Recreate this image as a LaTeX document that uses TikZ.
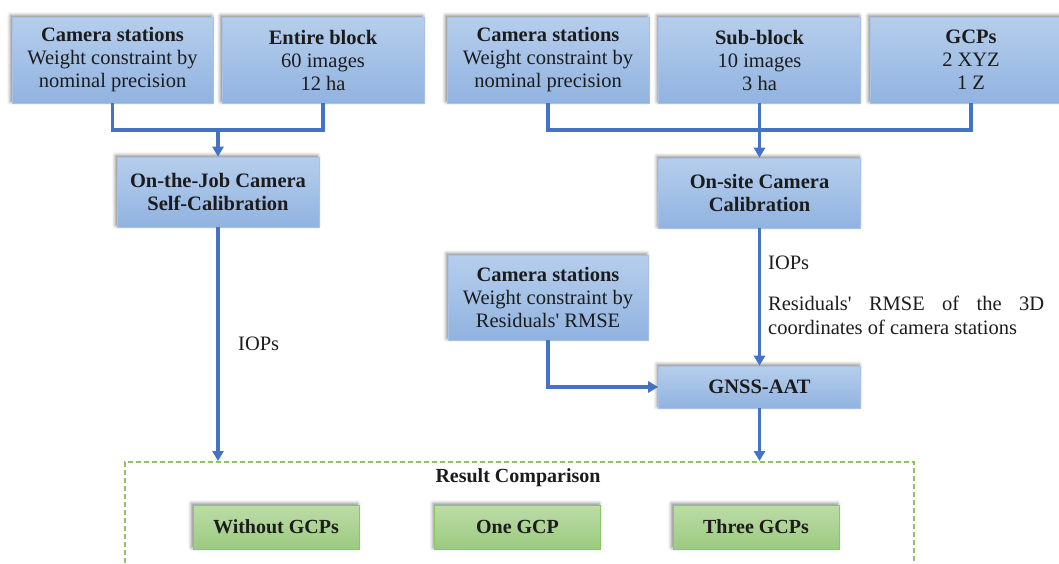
\documentclass[tikz,border=0pt]{standalone}
\usepackage{fontspec}
\setmainfont{Liberation Serif}
\usetikzlibrary{arrows.meta,shadows.blur}

\definecolor{boxtop}{HTML}{B6CEEC}
\definecolor{boxbot}{HTML}{91B3E0}
\definecolor{boxline}{HTML}{A7C2E6}
\definecolor{flow}{HTML}{4472C4}
\definecolor{gtop}{HTML}{BCDCA8}
\definecolor{gbot}{HTML}{9BCA7F}
\definecolor{gline}{HTML}{8CC467}
\definecolor{ink}{HTML}{1C1C1C}

\tikzset{
  boxshadow/.style={blur shadow={shadow xshift=-1.5pt, shadow yshift=1.5pt,
      shadow blur radius=3.5pt, shadow opacity=50}},
  bluebox/.style={draw=boxline, line width=0.6pt, top color=boxtop,
      bottom color=boxbot, align=center, text=ink, inner sep=2pt,
      boxshadow, font=\fontsize{20.5}{23}\selectfont},
  greenbox/.style={draw=gline, line width=0.6pt, top color=gtop,
      bottom color=gbot, align=center, text=ink, inner sep=2pt,
      boxshadow, minimum width=166pt, minimum height=44pt,
      font=\fontsize{20}{23}\selectfont\bfseries},
  toprow/.style={bluebox, minimum width=202pt, minimum height=86pt},
  midbox/.style={bluebox, minimum width=202pt, minimum height=70pt},
  flowline/.style={draw=flow, line width=3.4pt},
  flowarrow/.style={flowline, -{Triangle[length=10pt,width=11pt]}},
  note/.style={text=ink, inner sep=0pt, font=\fontsize{20.5}{24}\selectfont},
}

\begin{document}
\begin{tikzpicture}[x=1pt, y=-1pt]
\useasboundingbox (0,0) rectangle (1059,563);
\clip (0,0) rectangle (1059,563);

% top row of inputs
\node[toprow, minimum width=201pt] (cs1) at (112.5,60)
  {\textbf{Camera stations}\\Weight constraint by\\nominal precision};
\node[toprow] (eb) at (323,60)
  {\textbf{Entire block}\\60 images\\12 ha};
\node[toprow] (cs2) at (548,60)
  {\textbf{Camera stations}\\Weight constraint by\\nominal precision};
\node[toprow] (sb) at (759.5,60)
  {\textbf{Sub-block}\\10 images\\3 ha};
\node[toprow] (gcp) at (971,60)
  {\textbf{GCPs}\\2 XYZ\\1 Z};

% calibration steps
\node[midbox] (ojc) at (218,192)
  {\textbf{On-the-Job Camera}\\\textbf{Self-Calibration}};
\node[midbox] (ons) at (759.5,193)
  {\textbf{On-site Camera}\\\textbf{Calibration}};

% triangulation
\node[bluebox, minimum width=200pt, minimum height=85pt] (cs3) at (548,297.5)
  {\textbf{Camera stations}\\Weight constraint by\\Residuals\textquotesingle{} RMSE};
\node[bluebox, minimum width=202pt, minimum height=42pt] (gnss) at (759.5,387)
  {\textbf{GNSS-AAT}};

% comparison frame
\node[draw=gline, line width=1.8pt, dash pattern=on 5pt off 3pt,
      minimum width=789pt, minimum height=110pt, anchor=north west,
      inner sep=0pt] (res) at (124,461) {};
\node[text=ink, font=\fontsize{20}{23}\selectfont\bfseries] (rc) at (518,478)
  {Result Comparison};
\node[greenbox] (g0) at (276,527) {Without GCPs};
\node[greenbox] (g1) at (517.5,527) {One GCP};
\node[greenbox] (g3) at (756,527) {Three GCPs};

% connectors
\coordinate (j1) at (218,130);
\draw[flowline] (cs1.south) |- (j1) -| (eb.south);
\draw[flowarrow] (j1) -- (ojc.north);

\coordinate (j2) at (759.5,130);
\draw[flowline] (cs2.south) |- (j2) -| (gcp.south);
\draw[flowline] (sb.south) -- (j2);
\draw[flowarrow] (j2) -- (ons.north);

\draw[flowarrow] (ojc.south) -- (ojc.south |- res.north);
\draw[flowarrow] (ons.south) -- (gnss.north);
\draw[flowarrow] (cs3.south) |- (gnss.west);
\draw[flowarrow] (gnss.south) -- (gnss.south |- res.north);

% connector labels
\node[note, anchor=west] (iop1) at (238,344) {IOPs};
\node[note, anchor=west] (iop2) at (768,263) {IOPs};
\node[note, anchor=north west, text width=276pt, align=justify] (rmse)
  at (768,296) {\tolerance=10000
  Residuals\textquotesingle{} RMSE of the 3D\linebreak \mbox{coordinates} of camera stations};
\end{tikzpicture}
\end{document}
